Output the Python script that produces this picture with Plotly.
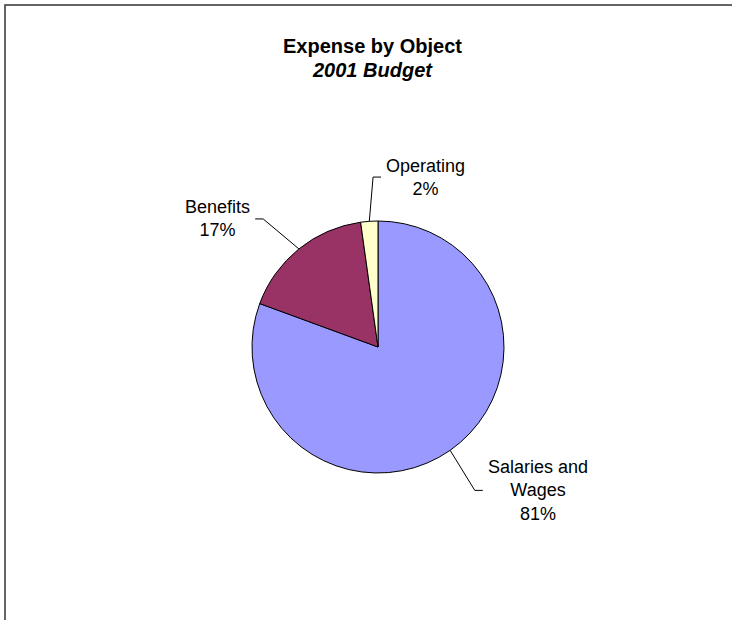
import math
import plotly.graph_objects as go

# ---- data ----
categories = ["Salaries and Wages", "Benefits", "Operating"]
label_lines = ["Salaries and<br>Wages", "Benefits", "Operating"]
values = [80.6, 17.2, 2.2]
colors = ["#9999FF", "#993366", "#FFFFCC"]
label_side = ["right", "left", "right"]

title_text = "Expense by Object"
subtitle_text = "2001 Budget"

# ---- layout constants (pixels) ----
W, H = 732, 620
CX, CY, R = 378, 347, 126
ELBOW_R = [173, 172, 170]          # leader-line elbow radius per label
ELBOW_DEG = [0.9, -3.0, 2.3]       # small angular nudge of elbow per label
TAIL = 8
FONT = "Arial, 'Liberation Sans', sans-serif"


def px(x):
    return x / W


def py(y):
    return 1 - y / H


fig = go.Figure()
fig.add_trace(go.Pie(
    labels=categories,
    values=values,
    sort=False,
    direction="clockwise",
    rotation=0,
    textinfo="none",
    hoverinfo="label+percent",
    marker=dict(colors=colors, line=dict(color="black", width=1)),
    domain=dict(x=[px(CX - R), px(CX + R)], y=[py(CY + R), py(CY - R)]),
    showlegend=False,
))

total = sum(values)
cum = 0.0
shapes = []
annotations = []
for i, (name, lines, v, side) in enumerate(zip(categories, label_lines, values, label_side)):
    mid = (cum + v / 2) / total * 2 * math.pi
    cum += v
    ex, ey = CX + R * math.sin(mid), CY - R * math.cos(mid)
    ang = mid + math.radians(ELBOW_DEG[i])
    bx, by = CX + ELBOW_R[i] * math.sin(ang), CY - ELBOW_R[i] * math.cos(ang)
    tx = bx + TAIL if side == "right" else bx - TAIL
    shapes.append(dict(
        type="path", xref="paper", yref="paper",
        path=f"M {px(ex)} {py(ey)} L {px(bx)} {py(by)} L {px(tx)} {py(by)}",
        line=dict(color="black", width=1),
    ))
    pct = round(v / total * 100)
    annotations.append(dict(
        x=px(tx + (3 if side == "right" else -3)), y=py(by),
        xref="paper", yref="paper",
        text=f"{lines}<br>{pct}%",
        showarrow=False,
        xanchor="left" if side == "right" else "right",
        yanchor="middle", align="center",
        font=dict(family=FONT, size=18, color="black"),
    ))

# title
annotations.append(dict(
    x=px(372), y=py(46), xref="paper", yref="paper",
    text=f"<b>{title_text}</b>", showarrow=False,
    xanchor="center", yanchor="middle",
    font=dict(family=FONT, size=20, color="black"),
))
annotations.append(dict(
    x=px(372), y=py(70), xref="paper", yref="paper",
    text=f"<b><i>{subtitle_text}</i></b>", showarrow=False,
    xanchor="center", yanchor="middle",
    font=dict(family=FONT, size=20, color="black"),
))

# chart frame
shapes.append(dict(
    type="rect", xref="paper", yref="paper",
    x0=px(5), x1=px(W + 20), y0=py(H + 20), y1=py(5),
    line=dict(color="#333333", width=1.5),
))

fig.update_layout(
    width=W, height=H,
    margin=dict(l=0, r=0, t=0, b=0),
    paper_bgcolor="white", plot_bgcolor="white",
    shapes=shapes,
    annotations=annotations,
)

fig.write_html("out.html")
